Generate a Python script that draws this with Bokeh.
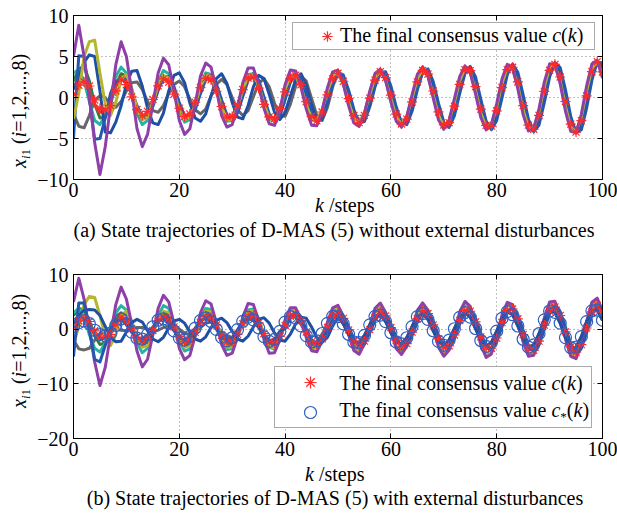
from bokeh.plotting import figure
from bokeh.models import (Range1d, LinearAxis, FixedTicker, Legend, LegendItem,
                          CustomJSTickFormatter, Div)
from bokeh.layouts import column, row
from bokeh.embed import file_html
from bokeh.resources import INLINE

FONT = "Liberation Serif"

# ---------------- data ----------------
steps = list(range(101))
x_ticks = [0, 20, 40, 60, 80, 100]

# final consensus value c(k)
c_vals = [0.4, 1.5, 1.9, 1.4, -0.3, -1.3, -1.5, -1.0, 0.8, 2.15,
          1.56, 0.08, -1.47, -2.20, -1.70, -0.23, 1.41, 2.27, 1.87, 0.40,
          -1.31, -2.31, -2.02, -0.57, 1.21, 2.34, 2.16, 0.75, -1.10, -2.36,
          -2.31, -0.94, 0.97, 2.37, 2.45, 1.14, -0.83, -2.36, -2.59, -1.34,
          0.68, 2.35, 2.72, 1.56, -0.51, -2.32, -2.84, -1.77, 0.32, 2.26,
          2.95, 1.98, -0.13, -2.20, -3.06, -2.18, -0.08, 2.11, 3.15, 2.42,
          0.30, -2.02, -3.23, -2.64, -0.54, 1.90, 3.30, 2.86, 0.79, -1.76,
          -3.35, -3.07, -1.06, 1.59, 3.38, 3.28, 1.33, -1.41, -3.40, -3.49,
          -1.62, 1.21, 3.40, 3.69, 1.90, -0.99, -3.37, -3.87, -2.19, 0.75,
          3.32, 4.04, 2.50, -0.49, -3.25, -4.22, -2.83, 0.21, 3.15, 4.37,
          3.12]

# ---- (a) without disturbances ----
purple_a = [5.0, 8.8, 5.0, 0.0, -5.5, -9.4, -6.0, -1.0, 4.0, 6.8,
            5.0, 0.8, -3.8, -6.0, -4.5, -0.8, 3.0, 4.8, 4.0, 0.8,
            -2.8, -4.5, -3.8, -0.8, 2.6, 4.2, 3.7, 1.0, -2.2, -3.6,
            -3.3, -1.2, 1.8, 3.6, 3.6, 1.6, -1.3, -3.2, -3.4, -1.6,
            1.59, 3.35, 3.24, 1.30, -1.42, -3.37, -3.44, -1.58, 1.18, 3.13,
            3.33, 1.66, -0.99, -3.12, -3.52, -1.91, 0.77, 2.93, 3.46, 2.04,
            -0.57, -2.89, -3.61, -2.31, 0.33, 2.82, 3.75, 2.59, -0.07, -2.73,
            -3.88, -2.73, -0.17, 2.54, 3.86, 3.00, 0.44, -2.42, -3.96, -3.27,
            -0.74, 2.26, 4.04, 3.54, 1.04, -2.09, -4.08, -3.78, -1.36, 1.88,
            4.11, 4.04, 1.69, -1.66, -4.13, -4.31, -2.05, 1.42, 4.11, 4.53,
            2.38]
olive_a = [-2.6, 0.5, 5.0, 6.8, 7.0, 3.0, -0.8, -2.2, -0.6, 2.2,
           2.8, 1.2, -1.3, -2.7, -2.4, -0.7, 1.5, 2.7, 2.4, 0.7,
           -1.5, -2.7, -2.5, -0.9, 1.3, 2.7, 2.6, 1.0, -1.1, -2.7,
           -2.7, -1.2, 0.9, 2.6, 2.8, 1.5, -0.7, -2.5, -2.9, -1.7,
           1.05, 2.55, 2.64, 1.24, -0.90, -2.55, -2.78, -1.45, 0.72, 2.52,
           2.92, 1.67, -0.55, -2.49, -3.06, -1.88, 0.35, 2.43, 3.18, 2.13,
           -0.14, -2.37, -3.29, -2.37, -0.09, 2.28, 3.40, 2.61, 0.33, -2.17,
           -3.48, -2.84, -0.59, 2.03, 3.55, 3.07, 0.86, -1.88, -3.61, -3.31,
           -1.15, 1.71, 3.65, 3.54, 1.43, -1.52, -3.66, -3.75, -1.73, 1.30,
           3.65, 3.96, 2.05, -1.07, -3.62, -4.18, -2.39, 0.81, 3.57, 4.37,
           2.69]
blue1_a = [-5.0, 5.1, 5.0, 0.0, -5.1, -5.0, -2.5, 0.5, 2.0, 2.16,
           2.29, 0.93, -0.99, -2.35, -2.41, -1.11, 0.86, 2.37, 2.58, 1.31,
           -0.63, -2.23, -2.60, -1.49, 0.47, 2.20, 2.71, 1.69, -0.30, -2.14,
           -2.82, -1.89, 0.11, 2.08, 2.91, 2.10, 0.09, -2.00, -3.00, -2.31,
           -0.25, 1.84, 2.92, 2.37, 0.46, -1.73, -2.98, -2.56, -0.69, 1.60,
           3.02, 2.75, 0.92, -1.46, -3.07, -2.93, -1.16, 1.30, 3.07, 3.14,
           1.41, -1.13, -3.07, -3.32, -1.68, 0.94, 3.06, 3.49, 1.95, -0.72,
           -3.02, -3.65, -2.23, 0.48, 2.95, 3.80, 2.51, -0.22, -2.88, -3.94,
           -2.80, -0.05, 2.78, 4.07, 3.07, 0.33, -2.65, -4.17, -3.35, -0.63,
           2.49, 4.25, 3.64, 0.95, -2.31, -4.33, -3.94, -1.29, 2.11, 4.38,
           4.19]
blue2_a = [1.0, 2.6, 4.3, 5.2, 5.0, 0.8, -4.2, -4.3, -3.0, -1.0,
           1.6, 3.2, 3.3, 1.4, -1.3, -3.1, -3.3, -1.9, 0.8, 2.7,
           3.0, 1.8, -0.7, -2.5, -2.9, -2.0, 0.2, 2.3, 2.9, 1.7,
           -0.6, -2.4, -2.6, -1.0, 1.3, 2.7, 2.3, 0.4, -1.8, -2.7,
           -1.8, 0.2, 2.2, 2.9, 1.5, -0.9, -2.7, -2.7, -0.7, 1.6,
           2.99, 2.44, 0.50, -1.76, -3.06, -2.63, -0.73, 1.62, 3.10, 2.85,
           0.97, -1.49, -3.14, -3.05, -1.22, 1.32, 3.16, 3.24, 1.48, -1.14,
           -3.15, -3.42, -1.76, 0.92, 3.12, 3.59, 2.04, -0.70, -3.09, -3.76,
           -2.33, 0.46, 3.03, 3.92, 2.60, -0.20, -2.94, -4.05, -2.88, -0.08,
           2.82, 4.16, 3.18, 0.37, -2.69, -4.28, -3.50, -0.69, 2.53, 4.38,
           3.76]
teal_a = [3.0, 3.4, 2.0, -0.5, -2.8, -3.3, -2.2, 0.2, 2.6, 3.7,
          3.0, 0.8, -2.0, -3.3, -2.8, -0.6, 1.9, 3.3, 2.9, 0.9,
          -1.6, -3.0, -2.7, -0.9, 1.5, 3.0, 2.8, 1.0, -1.3, -2.9,
          -2.8, -1.1, 1.1, 2.8, 2.9, 1.4, -0.8, -2.6, -2.9, -1.5,
          0.9, 2.7, 2.9, 1.5, -0.8, -2.6, -3.0, -1.7, 0.6, 2.5] + olive_a[50:]
green_a = [2.0, 3.5, 3.8, 2.0, -0.8, -2.5, -2.4, -0.8, 1.5, 2.9,
           2.6, 0.8, -1.5, -2.6, -2.2, -0.5, 1.5, 2.6, 2.3, 0.6,
           -1.4, -2.5, -2.3, -0.8, 1.2, 2.5, 2.4, 0.9, -1.1, -2.5,
           -2.5, -1.1, 0.9, 2.4, 2.6, 1.3, -0.8, -2.4, -2.7, -1.5,
           0.6, 2.3, 2.8, 1.7, -0.4, -2.3, -2.9, -1.9, 0.2, 2.2] + c_vals[50:]
gray_a = [-2.0, -3.5, -3.7, -2.2, -0.3, 0.2, 0.0, -0.9, -1.2, -0.5,
          0.8, 1.8, 1.9, 1.0, -0.5, -1.6, -1.8, -1.0, 0.5, 1.6,
          2.0, 1.3, -0.2, -1.5, -2.0, -1.4, 0.2, 1.6, 2.2, 1.6,
          0.0, -1.5, -2.2, -1.6, 0.1, 1.7, 2.3, 1.3, -0.7, -2.2,
          -2.3, -0.8, 1.4, 2.6, 2.0, -0.1, -2.2, -2.8, -1.2, 1.3] + blue2_a[50:]
red_a = [1.0, 2.2, 2.0, 0.8, -0.9, -1.8, -1.6, -0.4, 1.3, 2.3,
         1.8, 0.3, -1.4, -2.3, -1.9, -0.4, 1.3, 2.3, 2.0, 0.6] + c_vals[20:]

# ---- (b) with disturbances ----
cs_vals = [0.5, 1.2, 1.5, 1.0, -0.2, -1.0, -1.2, -0.7, 0.7, 1.87,
           0.83, -0.55, -1.64, -1.81, -0.96, 0.44, 1.63, 1.91, 1.12, -0.32,
           -1.59, -1.99, -1.27, 0.19, 1.55, 2.06, 1.41, -0.05, -1.50, -2.13,
           -1.57, -0.09, 1.44, 2.20, 1.71, 0.25, -1.36, -2.24, -1.87, -0.41,
           1.28, 2.29, 2.02, 0.60, -1.19, -2.33, -2.16, -0.79, 1.07, 2.34,
           2.30, 0.96, -0.94, -2.35, -2.45, -1.14, 0.80, 2.34, 2.58, 1.37,
           -0.65, -2.33, -2.70, -1.57, 0.48, 2.29, 2.83, 1.79, -0.29, -2.24,
           -2.94, -2.00, 0.08, 2.16, 3.04, 2.21, 0.12, -2.08, -3.14, -2.43,
           -0.36, 1.97, 3.22, 2.65, 0.58, -1.85, -3.28, -2.86, -0.83, 1.70,
           3.32, 3.07, 1.09, -1.54, -3.35, -3.30, -1.37, 1.37, 3.35, 3.49,
           1.64]
purple_b = [5.0, 9.3, 5.5, 0.0, -6.0, -10.3, -7.0, -1.0, 4.5, 7.7,
            5.5, 1.0, -4.0, -6.9, -5.5, -1.0, 3.8, 6.2, 5.0, 1.0,
            -3.5, -5.6, -4.8, -1.2, 3.0, 5.2, 4.6, 1.2, -2.8, -4.8,
            -4.4, -1.5, 2.2, 4.7, 4.5, 1.6, -1.8, -4.4, -4.3, -2.0,
            1.76, 3.94, 3.92, 1.69, -1.55, -3.95, -4.15, -2.03, 1.29, 3.92,
            4.37, 2.35, -1.04, -3.89, -4.59, -2.67, 0.74, 3.82, 4.79, 3.06,
            -0.44, -3.54, -4.64, -3.16, 0.15, 3.43, 4.81, 3.50, 0.19, -3.29,
            -4.95, -3.84, -0.55, 3.12, 5.07, 4.18, 0.92, -2.92, -5.18, -4.53,
            -1.33, 2.57, 4.92, 4.50, 1.53, -2.35, -4.96, -4.79, -1.93, 2.08,
            4.98, 5.09, 2.34, -1.79, -4.98, -5.41, -2.79, 1.47, 4.93, 5.67,
            3.20]
olive_b = [-2.8, 0.5, 4.5, 6.0, 5.8, 2.5, -1.5, -3.0, -1.0, 2.5,
           3.3, 1.5, -1.5, -3.3, -3.0, -0.9, 1.9, 3.3, 3.0, 0.9,
           -1.8, -3.3, -3.0, -1.1, 1.6, 3.3, 3.2, 1.2, -1.4, -3.3,
           -3.2, -1.4, 1.1, 3.2, 3.4, 1.8, -0.9, -3.1, -3.5, -2.0,
           1.29, 3.37, 3.59, 1.79, -1.08, -3.36, -3.77, -2.07, 0.83, 3.31,
           3.95, 2.36, -0.60, -3.26, -4.13, -2.64, 0.32, 3.17, 4.28, 2.98,
           -0.03, -2.92, -4.16, -3.08, -0.24, 2.79, 4.29, 3.38, 0.54, -2.65,
           -4.38, -3.67, -0.88, 2.46, 4.46, 3.96, 1.22, -2.26, -4.53, -4.25,
           -1.59, 1.95, 4.33, 4.28, 1.81, -1.72, -4.33, -4.52, -2.17, 1.45,
           4.31, 4.77, 2.55, -1.17, -4.27, -5.02, -2.96, 0.85, 4.20, 5.24,
           3.31]
teal_b = [3.0, 3.8, 2.0, -1.0, -3.5, -4.2, -2.5, 0.5, 3.0, 4.3,
          3.5, 0.8, -2.5, -4.3, -3.5, -0.8, 2.5, 4.3, 3.8, 1.0,
          -2.2, -4.0, -3.6, -1.1, 1.9, 3.8, 3.6, 1.3, -1.6, -3.7,
          -3.6, -1.5, 1.3, 3.5, 3.7, 1.9, -1.0, -3.3, -3.7, -2.0] + olive_b[40:]
green_b = [2.5, 3.8, 3.5, 1.5, -1.2, -2.8, -2.5, -0.6, 1.8, 3.0,
           2.6, 0.6, -1.7, -2.8, -2.3, -0.4, 1.7, 2.8, 2.4, 0.6,
           -1.6, -2.8, -2.5, -0.8, 1.4, 2.8, 2.6, 0.9, -1.3, -2.8,
           -2.7, -1.1, 1.0, 2.7, 2.8, 1.3, -0.9, -2.7, -2.9, -1.5] + c_vals[40:]
red_b = list(red_a)
gray_b = [-2.0, -3.6, -3.8, -3.5, -2.0, -0.8, -0.2, 0.0, 0.0, -0.2,
          -0.3, 0.0, 0.3, 0.3, 0.0, -0.3, -0.2, 0.3, 0.7, 0.6,
          0.0, -0.7, -1.0, -0.6, 0.3, 1.1, 1.3, 0.6, -0.6, -1.5,
          -1.5, -0.5, 0.9, 1.8, 1.6, 0.4, -1.1, -2.1, -1.9, -0.5,
          1.0, 2.2, 2.2, 0.9, -0.9, -2.3, -2.3, -0.9, 1.0, 2.3] + cs_vals[50:]
blue1_b = [-5.0, 4.8, 4.8, 0.0, -5.5, -6.0, -3.0, 0.0, 1.5, 1.8,
           0.8, -0.6, -1.6, -1.8, -1.0, 0.4, 1.6, 1.9, 1.1, -0.3,
           -1.6, -2.0, -1.3, 0.2, 1.5, 2.1, 1.4, 0.0, -1.5, -2.1,
           -1.6, -0.1, 1.4, 2.2, 1.7, 0.3, -1.4, -2.2, -1.9, -0.4,
           0.12, 2.04, 2.84, 2.05, 0.07, -1.97, -2.92, -2.24, -0.29, 1.86] + blue2_a[50:]
blue2_b = [1.0, 2.5, 3.5, 3.6, 3.5, 2.5, 0.5, -1.5, -2.3, -2.2,
           -0.5, 1.2, 1.8, 1.3, -0.3, -1.8, -2.3, -1.5, 0.2, 1.5,
           1.8, 1.1, -0.5, -1.8, -2.2, -1.4, 0.3, 1.6, 2.0, 1.2,
           -0.4, -1.8, -2.2, -1.3, 0.4, 1.8, 2.1, 1.1, -0.7, -2.0,
           -2.2, -0.9, 1.0, 2.2, 2.0, 0.4, -1.6, -2.4, -1.5, 0.6] + cs_vals[50:]

for arr in [c_vals, purple_a, olive_a, blue1_a, blue2_a, teal_a, green_a, gray_a, red_a,
            cs_vals, purple_b, olive_b, teal_b, green_b, red_b, gray_b, blue1_b, blue2_b]:
    assert len(arr) == 101, len(arr)

# ---------------- styles ----------------
PURPLE = "#8e3fa8"
OLIVE = "#b5b630"
BLUE = "#2458ae"
BLUE2 = "#1f4fa3"
TEAL = "#25b3a6"
GREEN = "#2e7d3a"
GRAY = "#666666"
RED = "#e8382e"
STAR = "#ff2a2a"
CIRC = "#2f5fbf"

YDIV_W = 31          # width of the strip that holds the rotated y label
PLOT_W = 617 - YDIV_W


def style_axis(ax, ticks, labels=True, overrides=None, standoff=4):
    ax.ticker = FixedTicker(ticks=ticks)
    ax.axis_line_color = "black"
    ax.axis_line_width = 1
    ax.major_tick_line_color = "black"
    ax.major_tick_in = 5
    ax.major_tick_out = 0
    ax.minor_tick_line_color = None
    if labels:
        ax.major_label_text_font = FONT
        ax.major_label_text_font_size = "20px"
        ax.major_label_text_color = "black"
        ax.major_label_standoff = standoff
        if overrides:
            ax.major_label_overrides = overrides
    else:
        ax.formatter = CustomJSTickFormatter(code="return ''")
        ax.major_label_text_font_size = "0px"
        ax.major_label_standoff = 0


def make_fig(height, top, bottom, ymin, ymax, yticks, ygrid, overrides):
    p = figure(width=PLOT_W, height=height, x_range=Range1d(0, 100), y_range=Range1d(ymin, ymax),
               output_backend="svg", toolbar_location=None,
               min_border_left=42, min_border_right=15, min_border_top=top, min_border_bottom=bottom)
    p.outline_line_color = "black"
    p.outline_line_width = 1
    p.background_fill_color = "white"
    p.border_fill_color = "white"
    style_axis(p.below[0], x_ticks, True, None, 3)
    style_axis(p.left[0], yticks, True, overrides, 5)
    top_ax = LinearAxis()
    right_ax = LinearAxis()
    p.add_layout(top_ax, "above")
    p.add_layout(right_ax, "right")
    style_axis(top_ax, x_ticks, False)
    style_axis(right_ax, yticks, False)
    p.xgrid.ticker = FixedTicker(ticks=[20, 40, 60, 80])
    p.ygrid.ticker = FixedTicker(ticks=ygrid)
    p.grid.grid_line_color = "#808080"
    p.grid.grid_line_dash = "1 3"
    p.grid.grid_line_width = 1
    return p


TXT = f"font-family:'{FONT}';font-size:20px;line-height:20px;white-space:nowrap;color:black;position:absolute;z-index:20;"
ASC = 16.75  # baseline offset inside a 20px line box
SUB = "font-size:13px;position:relative;top:4px;"


def ylabel_div(height, baseline_x, start_y):
    html = (f"<div style='position:relative;width:{YDIV_W}px;height:{height}px;'>"
            f"<div style=\"{TXT}left:{baseline_x - ASC:.2f}px;top:{start_y:.2f}px;"
            f"transform-origin:0 0;transform:rotate(-90deg);\">"
            f"<i>x</i><span style='{SUB}'><i>i</i>1</span>"
            " (<i>i</i>=1,2,...,8)</div></div>")
    return Div(text=html, width=YDIV_W, height=height, margin=0, styles={"overflow": "visible"})


def text_div(width, height, top_page, pieces):
    # pieces: (left_px, baseline_page_y, html, extra_css)
    inner = ""
    for left, base, html, extra in pieces:
        inner += (f"<div style=\"{TXT}left:{left:.2f}px;top:{base - top_page - ASC:.2f}px;{extra}\">"
                  f"{html}</div>")
    html = f"<div style='position:relative;width:{width}px;height:{height}px;'>{inner}</div>"
    return Div(text=html, width=width, height=height, margin=0,
               styles={"overflow": "visible", "z-index": "10"})


LEG1 = "The final consensus value <i>c</i>(<i>k</i>)"
LEG2 = f"The final consensus value <i>c</i><span style='{SUB}'>*</span>(<i>k</i>)"

# ---------------- figure (a) ----------------
pA = make_fig(206, 15, 27, -10, 10, [-10, -5, 0, 5, 10], [-5, 0, 5], {-10: "\u221210", -5: "\u22125"})
for vals, col in [(gray_a, GRAY), (green_a, GREEN), (red_a, RED), (teal_a, TEAL),
                  (blue2_a, BLUE2), (blue1_a, BLUE), (olive_a, OLIVE), (purple_a, PURPLE)]:
    pA.line(steps, vals, line_color=col, line_width=3, line_join="round")
stars_a = pA.scatter(steps, c_vals, marker="asterisk", size=10, line_color=STAR, line_width=1.2)

leg_a = Legend(items=[LegendItem(label=" ", renderers=[stars_a])], location="top_right",
               margin=7, padding=0, spacing=0, glyph_width=68, glyph_height=26,
               label_width=233, label_height=26, label_standoff=0, label_text_font_size="6px",
               border_line_color="#555555", border_line_width=1,
               background_fill_color="white", background_fill_alpha=1.0)
pA.add_layout(leg_a)

# ---------------- figure (b) ----------------
pB = make_fig(207, 16, 27, -20, 10, [-20, -10, 0, 10], [-10, 0], {-20: "\u221220", -10: "\u221210"})
for vals, col in [(gray_b, GRAY), (green_b, GREEN), (red_b, RED), (teal_b, TEAL),
                  (olive_b, OLIVE), (purple_b, PURPLE), (blue2_b, BLUE2), (blue1_b, BLUE)]:
    pB.line(steps, vals, line_color=col, line_width=3, line_join="round")
stars_b = pB.scatter(steps, c_vals, marker="asterisk", size=10, line_color=STAR, line_width=1.2)
circ_b = pB.scatter(steps, cs_vals, marker="circle", size=12, line_color=CIRC, fill_color=None,
                    line_width=1.2)

leg_b = Legend(items=[LegendItem(label=" ", renderers=[stars_b]),
                      LegendItem(label=" ", renderers=[circ_b])], location="bottom_right",
               margin=10, padding=0, spacing=0, glyph_width=70, glyph_height=30,
               label_width=246, label_height=30, label_standoff=0, label_text_font_size="6px",
               border_line_color="#555555", border_line_width=1,
               background_fill_color="white", background_fill_alpha=1.0)
pB.add_layout(leg_b)

# ---------------- texts outside / over the frames (page pixel positions) ----------------
ylab_a = ylabel_div(206, 26, 168)
ylab_b = ylabel_div(207, 26, 408 - 258)
cap_a = text_div(617, 52, 206, [
    (340, 41.5, LEG1, ""),
    (315, 212, "<i>k</i> /steps", ""),
    (34, 237, "(a) State trajectories of D-MAS (5) without external disturbances",
     "width:600px;text-align:center;"),
])
cap_b = text_div(617, 48, 465, [
    (339.3, 389.9, LEG1, ""),
    (339.3, 416.5, LEG2, ""),
    (305, 481, "<i>k</i> /steps", ""),
    (35, 505, "(b) State trajectories of D-MAS (5) with external disturbances",
     "width:600px;text-align:center;"),
])

layout = column(row(ylab_a, pA), cap_a, row(ylab_b, pB), cap_b)
open("out.html", "w").write(file_html(layout, INLINE))
